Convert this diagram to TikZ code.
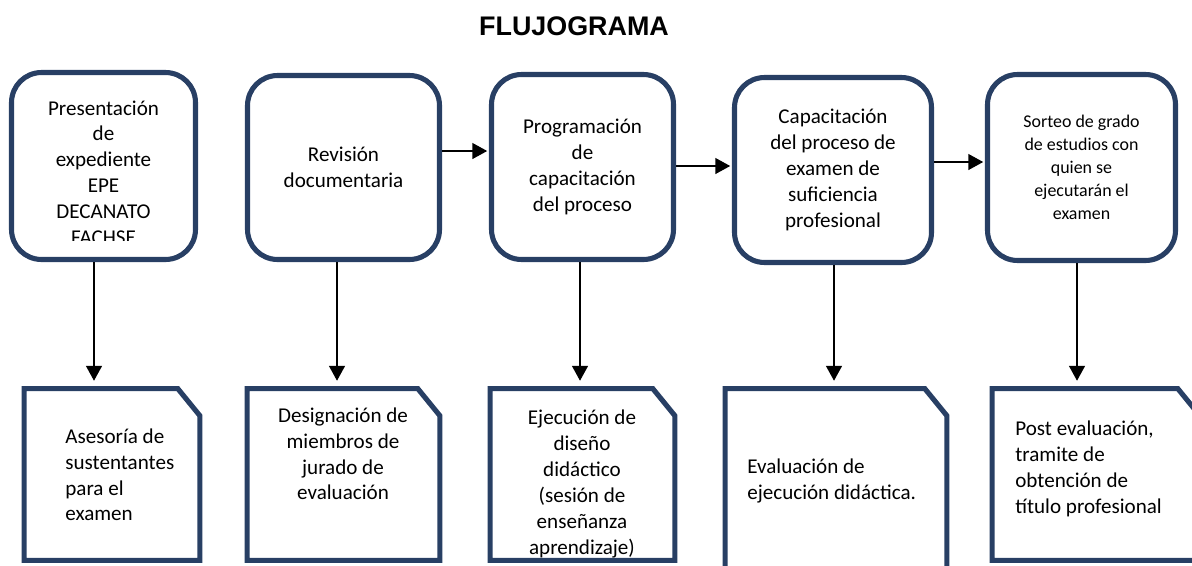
\documentclass[tikz,border=0pt]{standalone}
\usepackage{fontspec}
\setmainfont{Carlito}
\newfontfamily\titlefont{Liberation Sans}
\usepackage{tikz}
\usetikzlibrary{arrows.meta}
\definecolor{boxblue}{RGB}{40,63,100}

\begin{document}
\begin{tikzpicture}[x=0.02cm, y=-0.02cm]

\tikzstyle{every node} = [inner sep=0pt, font=\fontsize{12}{14.7}\selectfont]
\tikzstyle{stepbox} = [draw=boxblue, line width=2.9pt, rounded corners=0.6cm, align=center]
\tikzstyle{docbox} = [rectangle, minimum height=3.42cm]
\tikzstyle{docline} = [draw=boxblue, line width=2.9pt]
\tikzstyle{arr} = [-{Triangle[length=8.5pt,width=9pt]}, line width=1.1pt]

\useasboundingbox (0,0) rectangle (1192,565);
\clip (0,0) rectangle (1192,565);

\node[font=\titlefont\bfseries\fontsize{15.3}{18}\selectfont] (title) at (574,26) {FLUJOGRAMA};

\node[stepbox, minimum width=3.68cm, minimum height=3.74cm] (t1) at (103.5,166) {};
\begin{scope}
\clip (14,75) rectangle (193,240);
\node[align=center] (t1text) at (103.5,172.5) {Presentación\\de\\expediente\\EPE\\DECANATO\\FACHSE};
\end{scope}
\node[stepbox, minimum width=3.84cm, minimum height=3.68cm] (t2) at (343.5,167.5) {Revisión\\documentaria};
\node[stepbox, minimum width=3.64cm, minimum height=3.70cm] (t3) at (582.5,167) {Programación\\de\\capacitación\\del proceso};
\node[stepbox, minimum width=3.94cm, minimum height=3.70cm] (t4) at (833,170) {Capacitación\\del proceso de\\examen de\\suficiencia\\profesional};
\node[stepbox, minimum width=3.76cm, minimum height=3.72cm, font=\fontsize{10.2}{13}\selectfont] (t5) at (1081.5,167.5) {Sorteo de grado\\de estudios con\\quien se\\ejecutarán el\\examen};

\node[docbox, minimum width=3.5cm] (b1) at (112,474.5) {};
\node[docbox, minimum width=3.84cm] (b2) at (343.5,474.5) {};
\node[docbox, minimum width=3.68cm] (b3) at (582.5,474.5) {};
\node[docbox, minimum width=4.42cm, minimum height=3.82cm] (b4) at (836,484.5) {};
\node[docbox, minimum width=4.14cm] (b5) at (1096,474.5) {};

\node[align=left, anchor=west] (b1text) at (65,475) {Asesoría de\\sustentantes\\para el\\examen};
\node[align=center] (b2text) at (343,454) {Designación de\\miembros de\\jurado de\\evaluación};
\node[align=center] (b3text) at (582,484) {Ejecución de\\diseño\\didáctico\\(sesión de\\enseñanza\\aprendizaje)};
\node[align=left, anchor=west] (b4text) at (747,481) {Evaluación de\\ejecución didáctica.};
\node[align=left, anchor=west] (b5text) at (1015,469) {Post evaluación,\\tramite de\\obtención de\\título profesional};

\draw[docline] (b1.north west) -- ([xshift=-0.44cm]b1.north east) -- ([yshift=-0.54cm]b1.north east) -- (b1.south east) -- (b1.south west) -- cycle;
\draw[docline] (b2.north west) -- ([xshift=-0.44cm]b2.north east) -- ([yshift=-0.54cm]b2.north east) -- (b2.south east) -- (b2.south west) -- cycle;
\draw[docline] (b3.north west) -- ([xshift=-0.44cm]b3.north east) -- ([yshift=-0.54cm]b3.north east) -- (b3.south east) -- (b3.south west) -- cycle;
\draw[docline] (b4.north west) -- ([xshift=-0.44cm]b4.north east) -- ([yshift=-0.54cm]b4.north east) -- (b4.south east) -- (b4.south west) -- cycle;
\draw[docline] (b5.north west) -- ([xshift=-0.44cm]b5.north east) -- ([yshift=-0.54cm]b5.north east) -- (b5.south east) -- (b5.south west) -- cycle;

\draw[arr, shorten >=1pt] (t2.east |- 0,151) -- (t3.west |- 0,151);
\draw[arr, shorten >=1pt] (t3.east |- 0,166) -- (t4.west |- 0,166);
\draw[arr, shorten >=1pt] (t4.east |- 0,162) -- (t5.west |- 0,162);

\draw[arr, shorten >=4.5pt] (t1.south -| 94,0) -- (b1.north -| 94,0);
\draw[arr, shorten >=4.5pt] (t2.south -| 337,0) -- (b2.north -| 337,0);
\draw[arr, shorten >=4.5pt] (t3.south -| 580,0) -- (b3.north -| 580,0);
\draw[arr, shorten >=4.5pt] (t4.south -| 834,0) -- (b4.north -| 834,0);
\draw[arr, shorten >=4.5pt] (t5.south -| 1077,0) -- (b5.north -| 1077,0);

\end{tikzpicture}
\end{document}
